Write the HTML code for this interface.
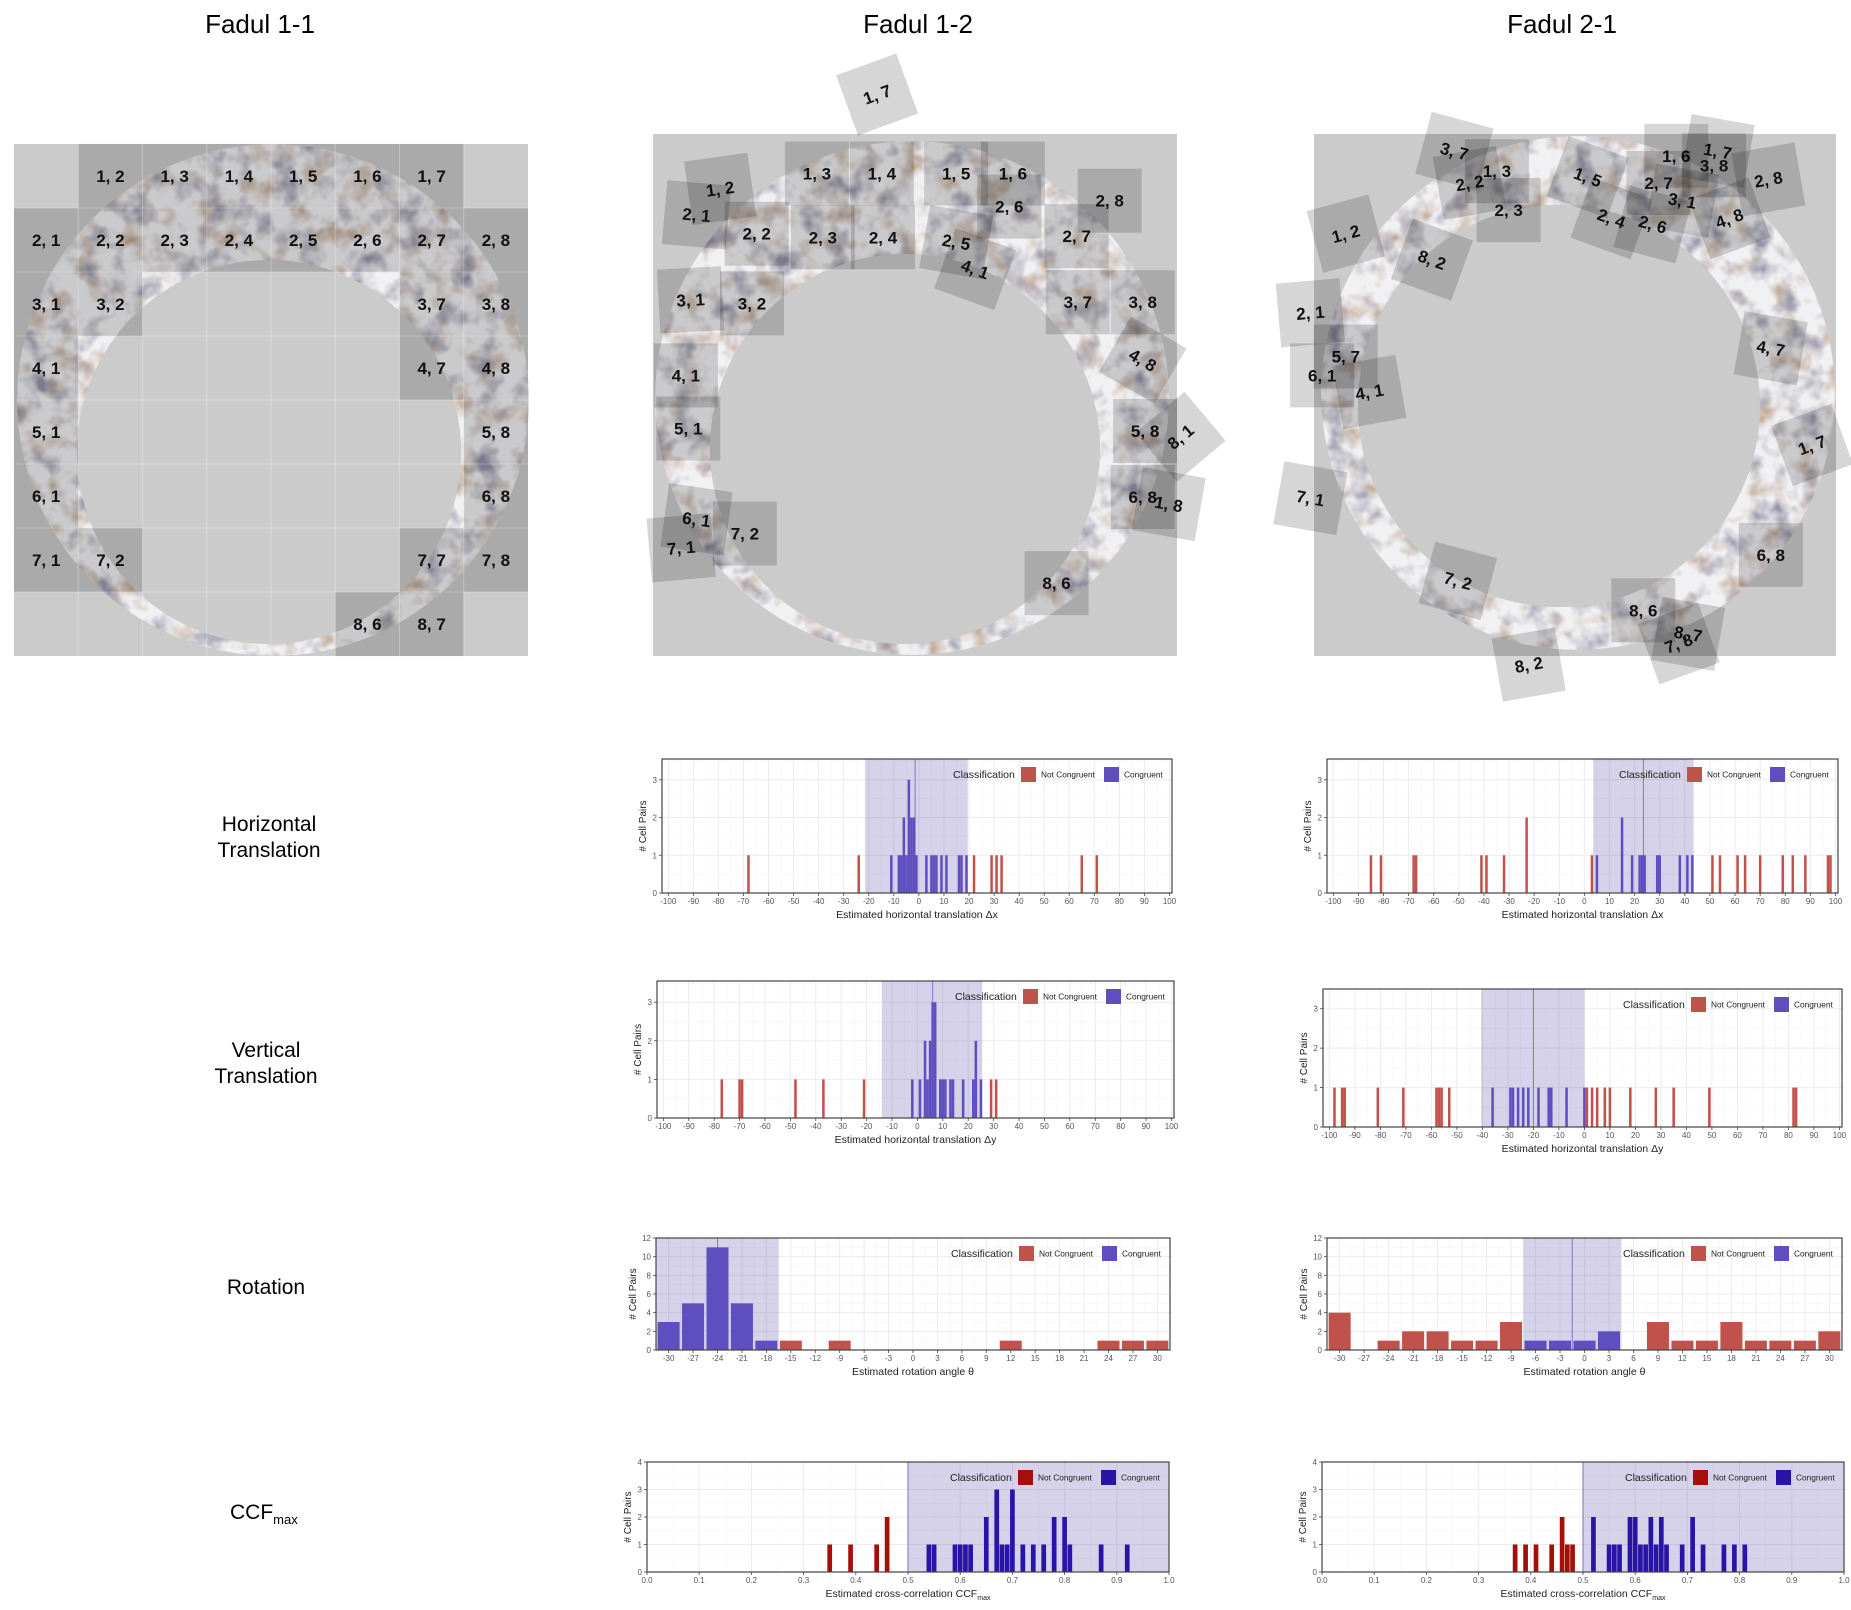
<!DOCTYPE html>
<html><head><meta charset="utf-8">
<style>
html,body{margin:0;padding:0;background:#fff;}
body{width:1851px;height:1605px;overflow:hidden;font-family:"Liberation Sans",sans-serif;}
svg text{font-family:"Liberation Sans",sans-serif;}
</style></head>
<body>
<svg id="root" xmlns="http://www.w3.org/2000/svg" width="1851" height="1605" viewBox="0 0 1851 1605">
<defs>
<filter id="tex" x="0" y="0" width="100%" height="100%">
<feTurbulence type="fractalNoise" baseFrequency="0.04" numOctaves="3" seed="4" result="n"/>
<feColorMatrix in="n" type="matrix" values="0 0 0 0 0.30  0 0 0 0 0.30  0 0 0 0 0.40  2.8 0 0 0 -1.35" result="dark"/>
<feColorMatrix in="n" type="matrix" values="0 0 0 0 0.52  0 0 0 0 0.38  0 0 0 0 0.28  0 2.6 0 0 -1.25" result="brown"/>
<feMerge result="m"><feMergeNode in="SourceGraphic"/><feMergeNode in="brown"/><feMergeNode in="dark"/></feMerge>
<feComposite in="m" in2="SourceGraphic" operator="in"/>
</filter>
</defs>
<g id="scans"></g>
<g id="charts"></g>
<text x="260" y="33" font-size="26" text-anchor="middle">Fadul 1-1</text>
<text x="918" y="33" font-size="26" text-anchor="middle">Fadul 1-2</text>
<text x="1562" y="33" font-size="26" text-anchor="middle">Fadul 2-1</text>
<text x="269" y="831" font-size="21" text-anchor="middle">Horizontal</text>
<text x="269" y="857" font-size="21" text-anchor="middle">Translation</text>
<text x="266" y="1057" font-size="21" text-anchor="middle">Vertical</text>
<text x="266" y="1083" font-size="21" text-anchor="middle">Translation</text>
<text x="266" y="1294" font-size="21" text-anchor="middle">Rotation</text>
<text x="230" y="1519" font-size="21">CCF<tspan font-size="13" dy="5">max</tspan></text>
</svg>
<script>
// ---------- chart data ----------
const transTicks = [-100,-90,-80,-70,-60,-50,-40,-30,-20,-10,0,10,20,30,40,50,60,70,80,90,100];
const transYTicks = [0,1,2,3];
const rotTicks = [-30,-27,-24,-21,-18,-15,-12,-9,-6,-3,0,3,6,9,12,15,18,21,24,27,30];
const rotYTicks = [0,2,4,6,8,10,12];
const ccfTicks = [0,0.1,0.2,0.3,0.4,0.5,0.6,0.7,0.8,0.9,1.0];
const ccfTickLabels = ["0.0","0.1","0.2","0.3","0.4","0.5","0.6","0.7","0.8","0.9","1.0"];
const ccfYTicks = [0,1,2,3,4];

const hx12RedX = [-68,-24,22,29,31,33,65,71];
const hx12RedN = [1,1,1,1,1,1,1,1];
const hx12BlueX = [-11,-8,-7,-6,-5,-4,-3,-2,-1,3,5,6,7,9,11,16,17,19];
const hx12BlueN = [1,1,1,2,1,3,2,2,1,1,1,1,1,1,1,1,1,1];
const hx12Band = [-21.5,19.5,-1.5];

const hx21RedX = [-85,-81,-68,-67,-41,-39,-32,-23,3,51,54,61,64,70,79,83,88,97,98];
const hx21RedN = [1,1,1,1,1,1,1,2,1,1,1,1,1,1,1,1,1,1,1];
const hx21BlueX = [5,15,19,22,23,24,29,30,38,41,43];
const hx21BlueN = [1,2,1,1,1,1,1,1,1,1,1];
const hx21Band = [3.5,43.5,23.5];

const vy12RedX = [-77,-70,-69,-48,-37,-21,29,31];
const vy12RedN = [1,1,1,1,1,1,1,1];
const vy12BlueX = [-2,1,3,4,5,6,7,9,10,11,13,14,18,22,23,25];
const vy12BlueN = [1,1,2,1,2,3,3,1,1,1,1,1,1,1,2,1];
const vy12Band = [-14,25.5,6];

const vy21RedX = [-98,-95,-94,-81,-71,-58,-57,-56,-53,1,3,5,8,10,18,28,35,49,82,83];
const vy21RedN = [1,1,1,1,1,1,1,1,1,1,1,1,1,1,1,1,1,1,1,1];
const vy21BlueX = [-36,-29,-28,-26,-24,-22,-18,-14,-13,-7,0];
const vy21BlueN = [1,1,1,1,1,1,1,1,1,1,1];
const vy21Band = [-40.5,0,-20];

const rot12RedX = [-15,-9,12,24,27,30];
const rot12RedN = [1,1,1,1,1,1];
const rot12BlueX = [-30,-27,-24,-21,-18];
const rot12BlueN = [3,5,11,5,1];
const rot12Band = [-31.5,-16.5,-24];

const rot21RedX = [-30,-24,-21,-18,-15,-12,-9,9,12,15,18,21,24,27,30];
const rot21RedN = [4,1,2,2,1,1,3,3,1,1,3,1,1,1,2];
const rot21BlueX = [-6,-3,0,3];
const rot21BlueN = [1,1,1,2];
const rot21Band = [-7.5,4.5,-1.5];

const ccf12RedX = [0.35,0.39,0.44,0.46];
const ccf12RedN = [1,1,1,2];
const ccf12BlueX = [0.54,0.55,0.59,0.60,0.61,0.62,0.65,0.67,0.68,0.69,0.70,0.72,0.74,0.76,0.78,0.80,0.81,0.87,0.92];
const ccf12BlueN = [1,1,1,1,1,1,2,3,1,1,3,1,1,1,2,2,1,1,1];
const ccf12Band = [0.5,1.0,null];

const ccf21RedX = [0.37,0.39,0.41,0.44,0.46,0.47,0.48];
const ccf21RedN = [1,1,1,1,2,1,1];
const ccf21BlueX = [0.52,0.55,0.56,0.57,0.59,0.60,0.61,0.62,0.63,0.64,0.65,0.66,0.69,0.71,0.73,0.77,0.79,0.81];
const ccf21BlueN = [2,1,1,1,2,2,1,1,2,1,2,1,1,2,1,1,1,1];
const ccf21Band = [0.5,1.0,null];

const NS = 'http://www.w3.org/2000/svg';
function mk(tag, parent){ const e=document.createElementNS(NS,tag); parent.appendChild(e); return e; }
function at(e,o){ for(const k in o) e.setAttribute(k,o[k]); return e; }

function chart(c){
  const g = mk('g', document.getElementById('charts'));
  
  
  const sx = v => c.x + (v - c.xmin)/(c.xmax - c.xmin)*c.w;
  const sy = v => c.y + c.h - (v - c.ymin)/(c.ymax - c.ymin)*c.h;
  const bg = at(mk('rect', g), {x:c.x, y:c.y, width:c.w, height:c.h, fill:'#fff'});
  
  
  for (let i=0;i<c.xt.length;i++){
    const px = sx(c.xt[i]);
    at(mk('line', g), {x1:px,x2:px,y1:c.y,y2:c.y+c.h,stroke:'#ebebeb','stroke-width':1});
    if(i<c.xt.length-1){ const pm = sx((c.xt[i]+c.xt[i+1])/2); at(mk('line', g), {x1:pm,x2:pm,y1:c.y,y2:c.y+c.h,stroke:'#f5f5f5','stroke-width':0.6}); }
  }
  for (let i=0;i<c.yt.length;i++){
    const py = sy(c.yt[i]);
    at(mk('line', g), {x1:c.x,x2:c.x+c.w,y1:py,y2:py,stroke:'#ebebeb','stroke-width':1});
    const pm = sy(c.yt[i] + (c.yt[1]-c.yt[0])/2);
    if (pm > c.y) at(mk('line', g), {x1:c.x,x2:c.x+c.w,y1:pm,y2:pm,stroke:'#f5f5f5','stroke-width':0.6});
  }
  const band = at(mk('rect', g), {x:sx(c.band[0]), y:c.y, width:sx(c.band[1])-sx(c.band[0]), height:c.h, fill:'rgba(110,100,180,0.29)'});
  
  
  if (c.band[2] !== null){
    const bl = at(mk('line', g), {x1:sx(c.band[2]),x2:sx(c.band[2]),y1:c.y,y2:c.y+c.h,stroke:'#8078c0','stroke-width':1});
    
    
  } else {
    at(mk('line', g), {x1:sx(c.band[0]),x2:sx(c.band[0]),y1:c.y,y2:c.y+c.h,stroke:'#7a72c0','stroke-width':1});
  }
  const drawBars = (xs, ns, col, nm) => {
    for (let i=0;i<xs.length;i++){
      const r = at(mk('rect', g), {x:sx(xs[i]-c.bw), y:sy(ns[i]), width:sx(xs[i]+c.bw)-sx(xs[i]-c.bw), height:sy(0)-sy(ns[i]), fill:col});
      
      
    }
  };
  drawBars(c.rx, c.rn, c.red, 'bar-not-congruent');
  drawBars(c.bx, c.bn, c.blue, 'bar-congruent');
  at(mk('rect', g), {x:c.x, y:c.y, width:c.w, height:c.h, fill:'none', stroke:'#444', 'stroke-width':1.2});
  for (let i=0;i<c.xt.length;i++){
    const px = sx(c.xt[i]);
    at(mk('line', g), {x1:px,x2:px,y1:c.y+c.h,y2:c.y+c.h+3,stroke:'#444','stroke-width':0.8});
    const t = at(mk('text', g), {x:px, y:c.y+c.h+11, 'font-size':8, fill:'#555', 'text-anchor':'middle'});
    t.textContent = c.xl ? c.xl[i] : String(c.xt[i]);
    
    
  }
  for (let i=0;i<c.yt.length;i++){
    const py = sy(c.yt[i]);
    at(mk('line', g), {x1:c.x-3,x2:c.x,y1:py,y2:py,stroke:'#444','stroke-width':0.8});
    const t = at(mk('text', g), {x:c.x-5, y:py+3, 'font-size':8, fill:'#555', 'text-anchor':'end'});
    t.textContent = String(c.yt[i]);
    
    
  }
  const yt = at(mk('text', g), {x:0, y:0, 'font-size':10, fill:'#222', 'text-anchor':'middle', transform:`translate(${c.x-(c.yo||16)},${c.y+c.h/2}) rotate(-90)`});
  yt.textContent = '# Cell Pairs';
  
  
  const xt = at(mk('text', g), {x:c.x+c.w/2, y:c.y+c.h+25, 'font-size':10.5, fill:'#222', 'text-anchor':'middle'});
  xt.textContent = c.title;
  if (c.sub){ const ts = at(mk('tspan', xt), {'font-size':7, dy:3}); ts.textContent = c.sub; }
  
  
  const R = c.x + c.w, ly = c.y + 8;
  const lg = mk('g', g);
  
  
  const lt = at(mk('text', lg), {x:R-219, y:ly+11, 'font-size':10.5, fill:'#222'}); lt.textContent='Classification';
  at(mk('rect', lg), {x:R-151, y:ly, width:15, height:15, fill:c.red});
  const l1 = at(mk('text', lg), {x:R-131, y:ly+10.5, 'font-size':8.3, fill:'#222'}); l1.textContent='Not Congruent';
  at(mk('rect', lg), {x:R-68, y:ly, width:15, height:15, fill:c.blue});
  const l2 = at(mk('text', lg), {x:R-48, y:ly+10.5, 'font-size':8.3, fill:'#222'}); l2.textContent='Congruent';
}

const RED='#c1524b', BLUE='#5f4ec0', RED2='#a50f0a', BLUE2='#2a14a8';
const tr = {xmin:-102.5,xmax:101,ymin:0,ymax:3.55,xt:transTicks,yt:transYTicks,bw:0.5,red:RED,blue:BLUE};
chart(Object.assign({}, tr, {name:'chart-horizontal-fadul-1-2', x:662,y:759,w:510,h:134, rx:hx12RedX,rn:hx12RedN,bx:hx12BlueX,bn:hx12BlueN,band:hx12Band,title:'Estimated horizontal translation Δx'}));
chart(Object.assign({}, tr, {name:'chart-horizontal-fadul-2-1', x:1327,y:759,w:511,h:134, rx:hx21RedX,rn:hx21RedN,bx:hx21BlueX,bn:hx21BlueN,band:hx21Band,title:'Estimated horizontal translation Δx'}));
chart(Object.assign({}, tr, {name:'chart-vertical-fadul-1-2', x:657,y:981,w:517,h:137, rx:vy12RedX,rn:vy12RedN,bx:vy12BlueX,bn:vy12BlueN,band:vy12Band,title:'Estimated horizontal translation Δy'}));
chart(Object.assign({}, tr, {name:'chart-vertical-fadul-2-1', x:1323,y:989,w:519,h:138, ymax:3.5, rx:vy21RedX,rn:vy21RedN,bx:vy21BlueX,bn:vy21BlueN,band:vy21Band,title:'Estimated horizontal translation Δy'}));
const ro = {xmin:-31.55,xmax:31.55,ymin:0,ymax:12,xt:rotTicks,yt:rotYTicks,bw:1.35,red:RED,blue:BLUE,yo:20};
chart(Object.assign({}, ro, {name:'chart-rotation-fadul-1-2', x:656,y:1238,w:514,h:112, rx:rot12RedX,rn:rot12RedN,bx:rot12BlueX,bn:rot12BlueN,band:rot12Band,title:'Estimated rotation angle θ'}));
chart(Object.assign({}, ro, {name:'chart-rotation-fadul-2-1', x:1327,y:1238,w:515,h:112, rx:rot21RedX,rn:rot21RedN,bx:rot21BlueX,bn:rot21BlueN,band:rot21Band,title:'Estimated rotation angle θ'}));
const cc = {xmin:0,xmax:1,ymin:0,ymax:4,xt:ccfTicks,xl:ccfTickLabels,yt:ccfYTicks,bw:0.0045,red:RED2,blue:BLUE2,yo:16};
chart(Object.assign({}, cc, {name:'chart-ccf-fadul-1-2', x:647,y:1462,w:522,h:110, rx:ccf12RedX,rn:ccf12RedN,bx:ccf12BlueX,bn:ccf12BlueN,band:ccf12Band,title:'Estimated cross-correlation CCF',sub:'max'}));
chart(Object.assign({}, cc, {name:'chart-ccf-fadul-2-1', x:1322,y:1462,w:522,h:110, rx:ccf21RedX,rn:ccf21RedN,bx:ccf21BlueX,bn:ccf21BlueN,band:ccf21Band,title:'Estimated cross-correlation CCF',sub:'max'}));

// ---------- scan images (decorative) ----------
const scans = document.getElementById('scans');
function ring(g, cx, cy, R, icx, icy, r){
  const p = at(mk('path', g), {d:`M${cx-R},${cy} a${R},${R} 0 1,0 ${2*R},0 a${R},${R} 0 1,0 ${-2*R},0 Z M${icx-r},${icy} a${r},${r} 0 1,0 ${2*r},0 a${r},${r} 0 1,0 ${-2*r},0 Z`, 'fill-rule':'evenodd', fill:'#f1f0f2', filter:'url(#tex)'});
  
  
}
function cell(g, cx, cy, s, rot, label){
  const cg = at(mk('g', g), {transform:`translate(${cx},${cy}) rotate(${rot})`});
  
  
  at(mk('rect', cg), {x:-s/2, y:-s/2, width:s, height:s, fill:'rgba(0,0,0,0.16)'});
  const t = at(mk('text', cg), {x:0, y:6, 'font-size':17, 'font-weight':'bold', fill:'#111', 'text-anchor':'middle'});
  t.textContent = label;
}
{
  const g = mk('g', scans);
  
  
  at(mk('rect', g), {x:14, y:144, width:514, height:512, fill:'#cbcbcb'});
  ring(g, 273, 400, 256, 269, 452, 192);
  const cells11 = [[1,2],[1,3],[1,4],[1,5],[1,6],[1,7],[2,1],[2,2],[2,3],[2,4],[2,5],[2,6],[2,7],[2,8],[3,1],[3,2],[3,7],[3,8],[4,1],[4,7],[4,8],[5,1],[5,8],[6,1],[6,8],[7,1],[7,2],[7,7],[7,8],[8,6],[8,7]];
  const cs = 514/8;
  for (const [r,c] of cells11){ cell(g, 14+(c-0.5)*cs, 144+(r-0.5)*64, cs, 0, r+', '+c); }
  for (let i=1;i<8;i++){
    at(mk('line', g), {x1:14+i*cs,x2:14+i*cs,y1:144,y2:656,stroke:'rgba(255,255,255,0.28)','stroke-width':1});
    at(mk('line', g), {x1:14,x2:528,y1:144+i*64,y2:144+i*64,stroke:'rgba(255,255,255,0.28)','stroke-width':1});
  }
}
const K = 1.1805;
const cells12 = [[743,80,-20,'1, 7'],[610,160,-8,'1, 2'],[590,182,5,'2, 1'],[692,147,0,'1, 3'],[747,147,0,'1, 4'],[810,147,0,'1, 5'],[858,147,0,'1, 6'],[641,198,0,'2, 2'],[697,201,0,'2, 3'],[748,201,0,'2, 4'],[855,175,0,'2, 6'],[940,170,0,'2, 8'],[912,200,0,'2, 7'],[810,205,10,'2, 5'],[826,228,20,'4, 1'],[585,254,-3,'3, 1'],[637,257,0,'3, 2'],[913,256,0,'3, 7'],[968,256,0,'3, 8'],[968,305,30,'4, 8'],[581,318,0,'4, 1'],[583,363,0,'5, 1'],[970,365,0,'5, 8'],[1000,370,-40,'8, 1'],[968,421,0,'6, 8'],[990,427,10,'1, 8'],[590,440,8,'6, 1'],[577,464,-5,'7, 1'],[631,452,0,'7, 2'],[895,494,0,'8, 6']];
const cells21 = [[1232,128,15,'3, 7'],[1245,155,-10,'2, 2'],[1268,145,0,'1, 3'],[1278,178,0,'2, 3'],[1345,150,20,'1, 5'],[1365,185,20,'2, 4'],[1400,190,15,'2, 6'],[1420,132,0,'1, 6'],[1405,155,0,'2, 7'],[1425,170,10,'3, 1'],[1455,128,10,'1, 7'],[1452,140,0,'3, 8'],[1465,185,-20,'4, 8'],[1498,152,-10,'2, 8'],[1140,198,-15,'1, 2'],[1213,220,20,'8, 2'],[1110,265,-5,'2, 1'],[1140,302,0,'5, 7'],[1120,318,0,'6, 1'],[1160,332,-10,'4, 1'],[1500,295,10,'4, 7'],[1535,377,-20,'1, 7'],[1110,422,10,'7, 1'],[1500,470,0,'6, 8'],[1235,492,15,'7, 2'],[1392,517,0,'8, 6'],[1430,537,10,'8, 7'],[1422,545,-20,'7, 8'],[1295,563,-10,'8, 2']];
{
  const g = mk('g', scans);
  
  
  at(mk('rect', g), {x:653, y:134, width:524, height:522, fill:'#cbcbcb'});
  ring(g, 912, 398, 257, 905, 449, 195);
  for (const [x,y,r,l] of cells12) cell(g, x*K, y*K, 64, r, l);
}
{
  const g = mk('g', scans);
  
  
  at(mk('rect', g), {x:1314, y:134, width:522, height:522, fill:'#cbcbcb'});
  ring(g, 1578, 393, 257, 1559, 406, 201);
  for (const [x,y,r,l] of cells21) cell(g, x*K, y*K, 64, r, l);
}
</script>
</body></html>
